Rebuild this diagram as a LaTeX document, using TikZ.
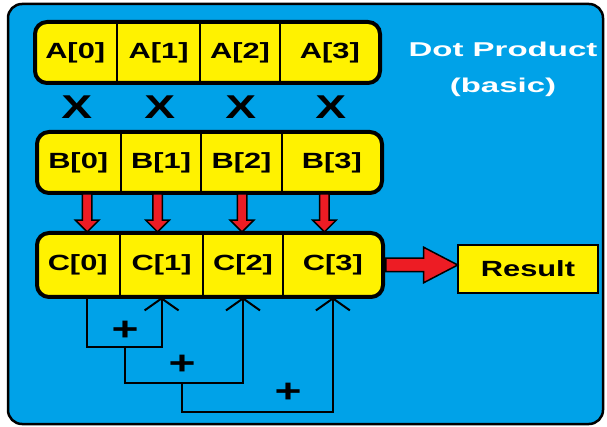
\documentclass[tikz,border=0pt]{standalone}
\usepackage{fontspec}
\newfontfamily\cellfont{Liberation Sans}[FakeStretch=1.4]
\newfontfamily\titlefont{Liberation Sans}[FakeStretch=1.65]
\usetikzlibrary{positioning,shapes.arrows,arrows.meta}

\definecolor{paintblue}{RGB}{0,162,232}
\definecolor{paintyellow}{RGB}{255,242,0}
\definecolor{paintred}{RGB}{237,28,36}

\begin{document}
\begin{tikzpicture}[
    x=1pt, y=-1pt,
    rowbox/.style={draw, line width=4pt, rounded corners=12pt, fill=paintyellow, inner sep=0pt},
    cell/.style={inner sep=0pt, font=\cellfont\bfseries\fontsize{22}{26}\selectfont},
    divider/.style={line width=2pt},
    times/.style={inner sep=0pt, font=\cellfont\bfseries\fontsize{33}{36}\selectfont},
    redarrow/.style={single arrow, draw, line width=1.5pt, fill=paintred, inner xsep=0pt,
        anchor=tail, single arrow head indent=0pt},
    downarrow/.style={redarrow, rotate=-90, minimum height=38pt, inner ysep=4pt,
        single arrow head extend=7pt},
    sumline/.style={line width=2pt, -{Straight Barb[length=12pt, width=34pt]}},
    resultbox/.style={draw, line width=2.5pt, fill=paintyellow, minimum width=140pt,
        minimum height=48pt, font=\cellfont\bfseries\fontsize{22}{26}\selectfont}
]

\useasboundingbox (0,0) rectangle (607,427);
\draw[line width=2.5pt, rounded corners=14pt, fill=paintblue] (8,4) rectangle (603,424);

% Title
\node[align=center, text=white, font=\titlefont\bfseries\fontsize{20}{36}\selectfont]
    (title) at (503,69) {Dot Product\\(basic)};

% Row A
\node[rowbox, minimum width=345pt, minimum height=61pt] (arow) at (207.5,52.5) {};
\node[cell, minimum width=84pt, minimum height=61pt, right=0pt of arow.west] (a0) {A[0]};
\node[cell, minimum width=82pt, minimum height=61pt, right=0pt of a0] (a1) {A[1]};
\node[cell, minimum width=80pt, minimum height=61pt, right=0pt of a1] (a2) {A[2]};
\node[cell, minimum width=99pt, minimum height=61pt, right=0pt of a2] (a3) {A[3]};
\draw[divider] (a0.north east) -- (a0.south east);
\draw[divider] (a1.north east) -- (a1.south east);
\draw[divider] (a2.north east) -- (a2.south east);

% Row B
\node[rowbox, minimum width=345pt, minimum height=61pt] (brow) at (209.5,162.5) {};
\node[cell, minimum width=86pt, minimum height=61pt, right=0pt of brow.west] (b0) {B[0]};
\node[cell, minimum width=79pt, minimum height=61pt, right=0pt of b0] (b1) {B[1]};
\node[cell, minimum width=81pt, minimum height=61pt, right=0pt of b1] (b2) {B[2]};
\node[cell, minimum width=99pt, minimum height=61pt, right=0pt of b2] (b3) {B[3]};
\draw[divider] (b0.north east) -- (b0.south east);
\draw[divider] (b1.north east) -- (b1.south east);
\draw[divider] (b2.north east) -- (b2.south east);

% Row C
\node[rowbox, minimum width=346pt, minimum height=64pt] (crow) at (210,265) {};
\node[cell, minimum width=85pt, minimum height=64pt, right=0pt of crow.west] (c0) {C[0]};
\node[cell, minimum width=82pt, minimum height=64pt, right=0pt of c0] (c1) {C[1]};
\node[cell, minimum width=80pt, minimum height=64pt, right=0pt of c1] (c2) {C[2]};
\node[cell, minimum width=99pt, minimum height=64pt, right=0pt of c2] (c3) {C[3]};
\draw[divider] (c0.north east) -- (c0.south east);
\draw[divider] (c1.north east) -- (c1.south east);
\draw[divider] (c2.north east) -- (c2.south east);

% Multiply signs
\path (a0.south) -- node[times] {X} (b0.north);
\path (a1.south) -- node[times] {X} (b1.north);
\path (a2.south) -- node[times] {X} (b2.north);
\path (a3.south) -- node[times] {X} (b3.north);

% Products into C
\node[downarrow] (m0) at ([xshift=9pt]b0.south) {};
\node[downarrow] (m1) at ([xshift=-3.5pt]b1.south) {};
\node[downarrow] (m2) at ([xshift=0.5pt]b2.south) {};
\node[downarrow] (m3) at ([xshift=-7.5pt]b3.south) {};

% Result
\node[resultbox] (result) at (528,269) {Result};
\node[redarrow, minimum height=72pt, inner ysep=6pt, single arrow head extend=11pt,
    single arrow tip angle=55] (out) at (crow.east) {};

% Sums
\coordinate (j1) at (125,347);
\coordinate (j2) at (182,383);
\coordinate (j3) at (288,412);

\draw[sumline] ([xshift=9pt]c0.south) |- (j1) -| (c1.south);
\draw[sumline] (j1) |- (j2) -| (c2.south);
\draw[sumline] (j2) |- (j3) -| (c3.south);

\node[times] at ([yshift=16pt]j1) {+};
\node[times] at ([yshift=18pt]j2) {+};
\node[times] at ([yshift=19pt]j3) {+};

\end{tikzpicture}
\end{document}
